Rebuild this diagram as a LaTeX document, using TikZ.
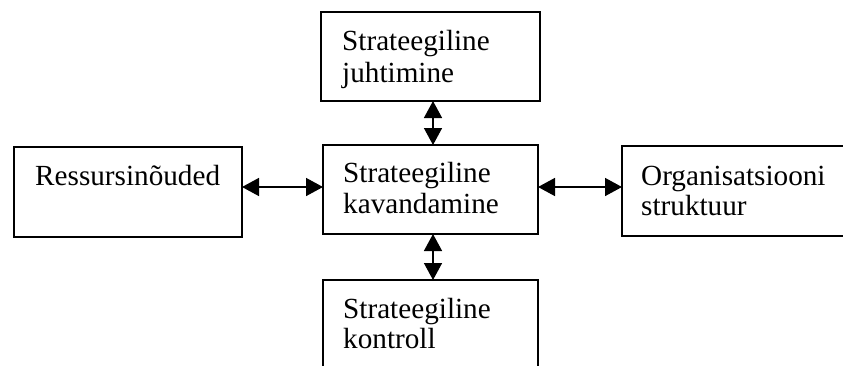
\documentclass[tikz,border=0pt]{standalone}
\usepackage{fontspec}
\setmainfont{Liberation Serif}
\usetikzlibrary{arrows.meta}
\begin{document}
\begin{tikzpicture}[x=1pt,y=-1pt,
  box/.style={draw=black,line width=1.2pt,rectangle,inner sep=0pt,outer sep=0pt},
  lbl/.style={anchor=base west,inner sep=0pt,font=\fontsize{29.2pt}{32pt}\selectfont,align=left},
  link/.style={line width=1.5pt,{Triangle[length=17pt,width=18pt]}-{Triangle[length=17pt,width=18pt]}}]
\useasboundingbox (0,0) rectangle (843,365);
\clip (0,0) rectangle (843,365);
% boxes
\node[box,minimum width=219pt,minimum height=89pt] (T) at (430.5,56.5) {};
\node[box,minimum width=215pt,minimum height=89pt] (C) at (430.5,189.5) {};
\node[box,minimum width=228pt,minimum height=90pt] (L) at (128,192) {};
\node[box,minimum width=240pt,minimum height=90pt] (R) at (742,191) {};
\node[box,minimum width=215pt,minimum height=100pt] (B) at (430.5,330) {};
% texts
\node[lbl] (tT1) at (342,50) {Strateegiline};
\node[lbl] (tT2) at (342,82) {juhtimine};
\node[lbl] (tC1) at (343,182) {Strateegiline};
\node[lbl] (tC2) at (343,213) {kavandamine};
\node[lbl] (tL) at (35,185) {Ressursinõuded};
\node[lbl] (tR1) at (641,185) {Organisatsiooni};
\node[lbl] (tR2) at (641,215) {struktuur};
\node[lbl] (tB1) at (343,318) {Strateegiline};
\node[lbl] (tB2) at (343,348) {kontroll};
% connectors
\draw[link] (L.east |- 0,187) -- (C.west |- 0,187);
\draw[link] (C.east |- 0,187) -- (R.west |- 0,187);
\draw[link] (T.south -| 433,0) -- (C.north -| 433,0);
\draw[link] (C.south -| 433,0) -- (B.north -| 433,0);
\end{tikzpicture}
\end{document}
